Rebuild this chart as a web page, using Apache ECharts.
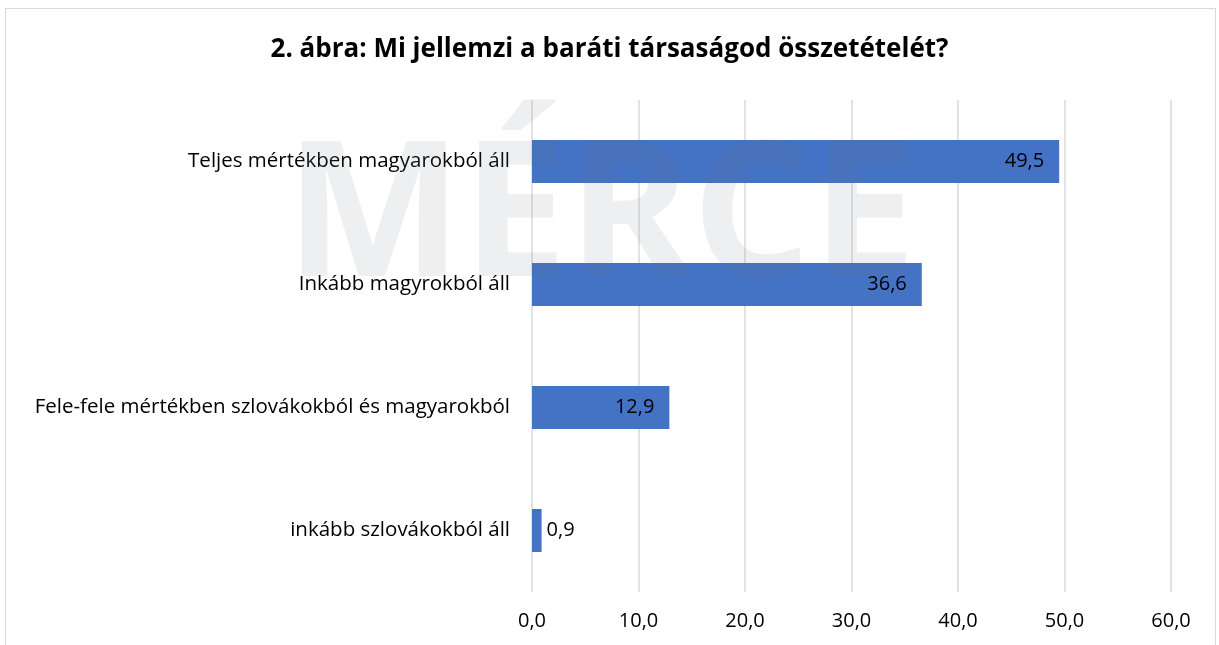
<!DOCTYPE html>
<html>
<head>
<meta charset="utf-8">
<script src="https://cdn.jsdelivr.net/npm/echarts@6/dist/echarts.min.js"></script>
<style>
  html, body { margin: 0; padding: 0; background: #fff; }
  #frame { position: absolute; left: 5px; top: 8px; width: 1209px; height: 660px; border: 1px solid #d9d9d9; }
  #chart { position: absolute; left: 0; top: 0; width: 1219px; height: 645px; }
</style>
</head>
<body>
<div id="frame"></div>
<div id="chart"></div>
<script>
const categories = [
  'inkább szlovákokból áll',
  'Fele-fele mértékben szlovákokból és magyarokból',
  'Inkább magyrokból áll',
  'Teljes mértékben magyarokból áll'
]
const values = [0.9, 12.9, 36.6, 49.5]
const titleText = '2. ábra: Mi jellemzi a baráti társaságod összetételét?'

const fmt = v => v.toFixed(1).replace('.', ',')
const font = '"Open Sans", "Noto Sans", sans-serif'

const chart = echarts.init(document.getElementById('chart'))
chart.setOption({
  backgroundColor: 'transparent',
  animation: false,
  title: {
    text: titleText,
    left: 'center',
    top: 32,
    textStyle: { fontFamily: font, fontWeight: 'bold', fontSize: 26, color: '#000' }
  },
  graphic: [{
    type: 'text',
    left: 285,
    top: 128,
    z: 100,
    silent: true,
    style: {
      text: 'MÉRCE',
      font: 'bold 188px "Open Sans", sans-serif',
      fill: 'rgba(110,125,130,0.12)'
    }
  }],
  grid: { left: 532, right: 48, top: 100, bottom: 53 },
  xAxis: {
    type: 'value',
    min: 0,
    max: 60,
    interval: 10,
    axisLine: { show: false },
    axisTick: { show: false },
    splitLine: { lineStyle: { color: '#d9d9d9', width: 1.5 } },
    axisLabel: { color: '#000', fontSize: 20, fontFamily: font, margin: 19, formatter: v => fmt(v) }
  },
  yAxis: {
    type: 'category',
    data: categories,
    axisLine: { show: false },
    axisTick: { show: false },
    axisLabel: { color: '#000', fontSize: 20.5, fontFamily: font, margin: 22 }
  },
  series: [{
    type: 'bar',
    data: values.map(v => ({
      value: v,
      label: v < 5 ? { position: 'right', distance: 5 } : { position: 'insideRight', distance: 15 }
    })),
    barWidth: 43,
    itemStyle: { color: '#4472c4' },
    label: {
      show: true,
      color: '#000',
      fontSize: 20,
      fontFamily: font,
      formatter: p => fmt(p.value)
    }
  }]
})
</script>
</body>
</html>
